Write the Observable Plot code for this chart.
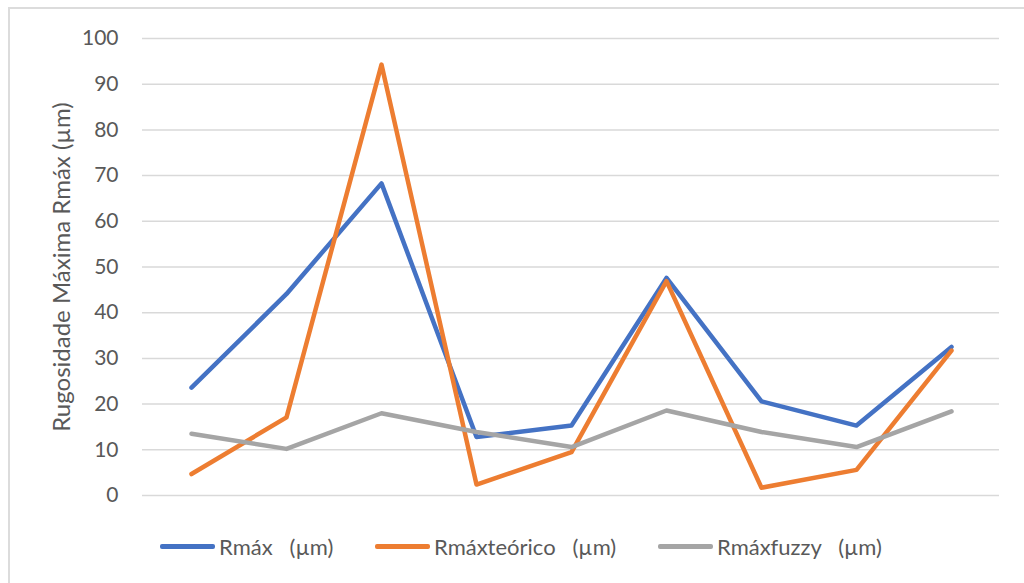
<!DOCTYPE html>
<html>
<head>
<meta charset="utf-8">
<script src="https://cdn.jsdelivr.net/npm/d3@7"></script>
<script src="https://cdn.jsdelivr.net/npm/@observablehq/plot@0.6"></script>
<style>
  html, body { margin: 0; padding: 0; background: #fff; }
  #wrap { position: relative; width: 1024px; height: 583px; overflow: hidden; font-family: Lato, "Liberation Sans", sans-serif; }
  #frame { position: absolute; left: 8px; top: 7px; width: 1100px; height: 700px; border-left: 2px solid #dcdcdc; border-top: 2px solid #dcdcdc; }
  #chart { position: absolute; left: 0; top: 0; }
  #legend { position: absolute; left: 0; top: 520px; width: 1024px; height: 52px; }
  .item { position: absolute; top: 0; height: 52px; display: flex; align-items: center; }
  .swatch { width: 55px; height: 5px; border-radius: 2px; margin-right: 4px; }
  .lbl { white-space: pre; font-size: 22px; color: #595959; }
</style>
</head>
<body>
<div id="wrap">
  <div id="frame"></div>
  <div id="chart"></div>
  <div id="legend"></div>
</div>
<script>
// Sample identifiers (x axis, unlabeled)
const samples = ["1", "2", "3", "4", "5", "6", "7", "8", "9"];

// Maximum roughness per sample, µm
const rmax        = [23.6, 44.1, 68.3, 12.8, 15.3, 47.6, 20.6, 15.3, 32.5];
const rmaxTeorico = [4.7, 17.1, 94.3, 2.4, 9.5, 46.9, 1.7, 5.6, 31.7];
const rmaxFuzzy   = [13.5, 10.2, 18.0, 13.9, 10.6, 18.6, 13.9, 10.6, 18.4];

const seriesNames  = ["Rmáx   (µm)", "Rmáxteórico   (µm)", "Rmáxfuzzy   (µm)"];
const seriesColors = ["#4472C4", "#ED7D31", "#A5A5A5"];
const yTicks = [0, 10, 20, 30, 40, 50, 60, 70, 80, 90, 100];
const yTitle = "Rugosidade Máxima Rmáx (µm)";

const seriesValues = [rmax, rmaxTeorico, rmaxFuzzy];
const rows = seriesValues.flatMap((vals, s) =>
  samples.map((sample, i) => ({ sample, value: vals[i], series: seriesNames[s] }))
);

const chart = Plot.plot({
  width: 1024,
  height: 520,
  marginLeft: 142,
  marginRight: 25,
  marginTop: 38,
  marginBottom: 25,
  style: { fontFamily: "Lato, 'Liberation Sans', sans-serif", background: "transparent" },
  x: { type: "point", domain: samples, padding: 0.5, axis: null },
  y: { domain: [0, 100] },
  color: { domain: seriesNames, range: seriesColors },
  marks: [
    Plot.gridY(yTicks, { stroke: "#d9d9d9", strokeOpacity: 1, strokeWidth: 1.5 }),
    Plot.axisY(yTicks, {
      tickSize: 0,
      tickPadding: 24,
      fontSize: 21,
      fill: "#595959",
      label: null
    }),
    // Rotated y-axis title, centred on the plot frame
    Plot.text([yTitle], {
      text: d => d,
      frameAnchor: "left",
      textAnchor: "middle",
      rotate: -90,
      dx: -80,
      fontSize: 24,
      fill: "#595959"
    }),
    Plot.line(rows, {
      x: "sample",
      y: "value",
      z: "series",
      stroke: "series",
      strokeWidth: 4.5,
      strokeLinejoin: "round",
      strokeLinecap: "round"
    })
  ]
});
document.getElementById("chart").appendChild(chart);

// Legend below the plot
const legendX = [160, 375, 658];
const legend = document.getElementById("legend");
seriesNames.forEach((name, i) => {
  const item = document.createElement("div");
  item.className = "item";
  item.style.left = legendX[i] + "px";
  const sw = document.createElement("div");
  sw.className = "swatch";
  sw.style.background = seriesColors[i];
  const t = document.createElement("span");
  t.className = "lbl";
  t.textContent = name;
  item.appendChild(sw);
  item.appendChild(t);
  legend.appendChild(item);
});
</script>
</body>
</html>
